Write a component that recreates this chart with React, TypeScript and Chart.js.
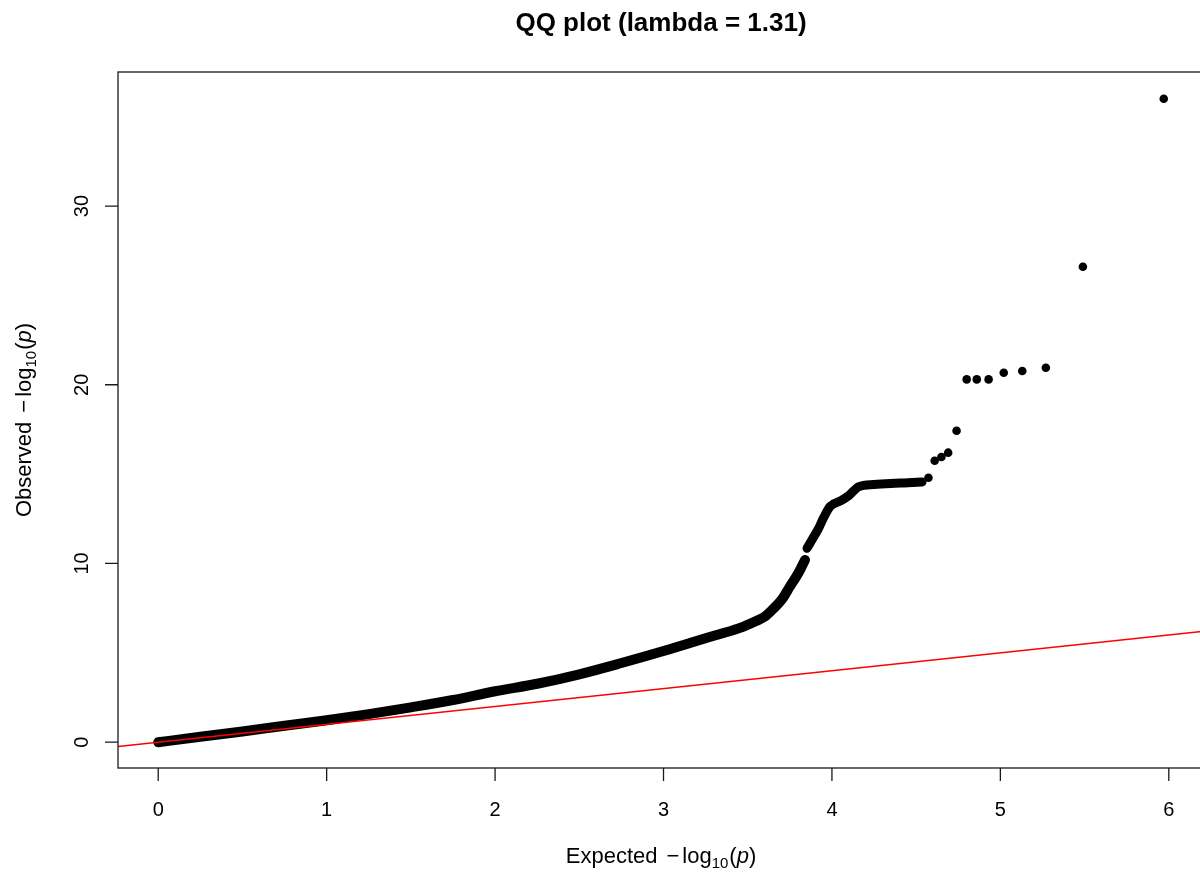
import React, { useEffect, useRef } from "react";
import { Chart, registerables } from "chart.js";

Chart.register(...registerables);

// ---- data ----
const chartTitle = "QQ plot (lambda = 1.31)";
const xTickValues = [0, 1, 2, 3, 4, 5, 6];
const yTickValues = [0, 10, 20, 30];
const xLimits = [-0.2388, 6.209];
const yLimits = [-1.444, 37.5];

// dense band of observed points (lower part)
const bandAExpected = [0, 0.25, 0.5, 0.75, 1.0, 1.25, 1.5, 1.75, 2.0, 2.25, 2.5, 2.75, 3.0, 3.25, 3.45, 3.55, 3.6, 3.65, 3.7, 3.75, 3.8, 3.84];
const bandAObserved = [0, 0.3, 0.6, 0.92, 1.23, 1.57, 1.95, 2.36, 2.85, 3.27, 3.8, 4.43, 5.1, 5.82, 6.38, 6.78, 7.02, 7.45, 7.95, 8.7, 9.45, 10.2];

// dense band (upper part, up to the plateau)
const bandBExpected = [3.852, 3.88, 3.92, 3.95, 3.99, 4.05, 4.1, 4.16, 4.25, 4.35, 4.45, 4.535];
const bandBObserved = [10.85, 11.3, 11.95, 12.55, 13.2, 13.5, 13.8, 14.3, 14.42, 14.48, 14.52, 14.56];

// separate top points
const topExpected = [5.97, 5.49, 5.27, 5.13, 5.02, 4.93, 4.86, 4.8, 4.74, 4.69, 4.65, 4.61, 4.573];
const topObserved = [36.0, 26.6, 20.95, 20.77, 20.67, 20.3, 20.3, 20.3, 17.43, 16.2, 15.96, 15.75, 14.8];

// reference line y = x
const refLineValues = [-0.2388, 6.209];

const FONT = '"Liberation Sans", Arial, Helvetica, sans-serif';

type Seg = { t: string; font: string; dy?: number; gap?: number };

function drawSegments(ctx: CanvasRenderingContext2D, segs: Seg[], cx: number) {
  let total = 0;
  const widths = segs.map((s) => {
    ctx.font = s.font;
    const w = ctx.measureText(s.t).width + (s.gap || 0);
    total += w;
    return w;
  });
  let x = cx - total / 2;
  segs.forEach((s, i) => {
    ctx.font = s.font;
    ctx.fillText(s.t, x, s.dy || 0);
    x += widths[i];
  });
}

function labelSegs(word: string): Seg[] {
  return [
    { t: word, font: `22px ${FONT}`, gap: 9 },
    { t: "\u2212", font: `22px ${FONT}`, gap: 3 },
    { t: "log", font: `22px ${FONT}` },
    { t: "10", font: `15px ${FONT}`, dy: 5, gap: 1 },
    { t: "(", font: `22px ${FONT}` },
    { t: "p", font: `italic 22px ${FONT}` },
    { t: ")", font: `22px ${FONT}` },
  ];
}

const framePlugin = {
  id: "rFrame",
  afterDraw(chart: any) {
    const ctx: CanvasRenderingContext2D = chart.ctx;
    const a = chart.chartArea;
    const xs = chart.scales.x;
    const ys = chart.scales.y;
    ctx.save();
    ctx.strokeStyle = "#1a1a1a";
    ctx.lineWidth = 1.3;
    ctx.strokeRect(a.left, a.top, a.right - a.left, a.bottom - a.top);

    // x ticks
    ctx.beginPath();
    xTickValues.forEach((v) => {
      const p = xs.getPixelForValue(v);
      ctx.moveTo(p, a.bottom);
      ctx.lineTo(p, a.bottom + 13);
    });
    // y ticks
    yTickValues.forEach((v) => {
      const p = ys.getPixelForValue(v);
      ctx.moveTo(a.left, p);
      ctx.lineTo(a.left - 13, p);
    });
    ctx.stroke();

    ctx.fillStyle = "#000";
    ctx.textAlign = "center";
    ctx.textBaseline = "alphabetic";
    ctx.font = `20px ${FONT}`;
    xTickValues.forEach((v) => {
      ctx.fillText(String(v), xs.getPixelForValue(v), a.bottom + 47.5);
    });
    yTickValues.forEach((v) => {
      ctx.save();
      ctx.translate(a.left - 30, ys.getPixelForValue(v));
      ctx.rotate(-Math.PI / 2);
      ctx.fillText(String(v), 0, 0);
      ctx.restore();
    });

    // title
    ctx.font = `bold 26px ${FONT}`;
    ctx.fillText(chartTitle, (a.left + a.right) / 2, 31);

    // x axis title
    ctx.textAlign = "left";
    ctx.save();
    ctx.translate(0, 863);
    drawSegments(ctx, labelSegs("Expected"), (a.left + a.right) / 2);
    ctx.restore();

    // y axis title
    ctx.save();
    ctx.translate(31, (a.top + a.bottom) / 2);
    ctx.rotate(-Math.PI / 2);
    drawSegments(ctx, labelSegs("Observed"), 0);
    ctx.restore();

    ctx.restore();
  },
};

export default function App() {
  const ref = useRef<HTMLCanvasElement>(null);
  useEffect(() => {
    const canvas = ref.current;
    if (!canvas) return;
    const chart = new Chart(canvas, {
      type: "scatter",
      data: {
        datasets: [
          {
            label: "y = x",
            data: refLineValues.map((v) => ({ x: v, y: v })),
            showLine: true,
            borderColor: "#ff0000",
            backgroundColor: "#ff0000",
            borderWidth: 1.5,
            pointRadius: 0,
            order: 0,
          },
          {
            label: "observed band A",
            data: bandAExpected.map((x, i) => ({ x, y: bandAObserved[i] })),
            showLine: true,
            borderColor: "#000",
            backgroundColor: "#000",
            borderWidth: 10,
            borderCapStyle: "round",
            borderJoinStyle: "round",
            cubicInterpolationMode: "monotone",
            pointRadius: 0,
            order: 1,
          },
          {
            label: "observed band B",
            data: bandBExpected.map((x, i) => ({ x, y: bandBObserved[i] })),
            showLine: true,
            borderColor: "#000",
            backgroundColor: "#000",
            borderWidth: 9,
            borderCapStyle: "round",
            borderJoinStyle: "round",
            cubicInterpolationMode: "monotone",
            pointRadius: 0,
            order: 1,
          },
          {
            label: "observed top",
            data: topExpected.map((x, i) => ({ x, y: topObserved[i] })),
            showLine: false,
            backgroundColor: "#000",
            borderColor: "#000",
            borderWidth: 0,
            pointRadius: 4.3,
            order: 1,
          },
        ],
      } as any,
      options: {
        responsive: false,
        animation: false,
        devicePixelRatio: 1,
        events: [],
        layout: { padding: { left: 118, top: 72, right: 16, bottom: 105 } },
        scales: {
          x: { type: "linear", min: xLimits[0], max: xLimits[1], display: false },
          y: { type: "linear", min: yLimits[0], max: yLimits[1], display: false },
        },
        plugins: {
          legend: { display: false },
          tooltip: { enabled: false },
          title: { display: false },
        },
      } as any,
      plugins: [framePlugin],
    });
    return () => chart.destroy();
  }, []);

  return (
    <div
      style={{
        position: "absolute",
        left: 0,
        top: 0,
        width: 1200,
        height: 873,
        overflow: "hidden",
        background: "#fff",
      }}
    >
      <canvas ref={ref} width={1220} height={873} style={{ display: "block", width: 1220, height: 873 }} />
    </div>
  );
}
